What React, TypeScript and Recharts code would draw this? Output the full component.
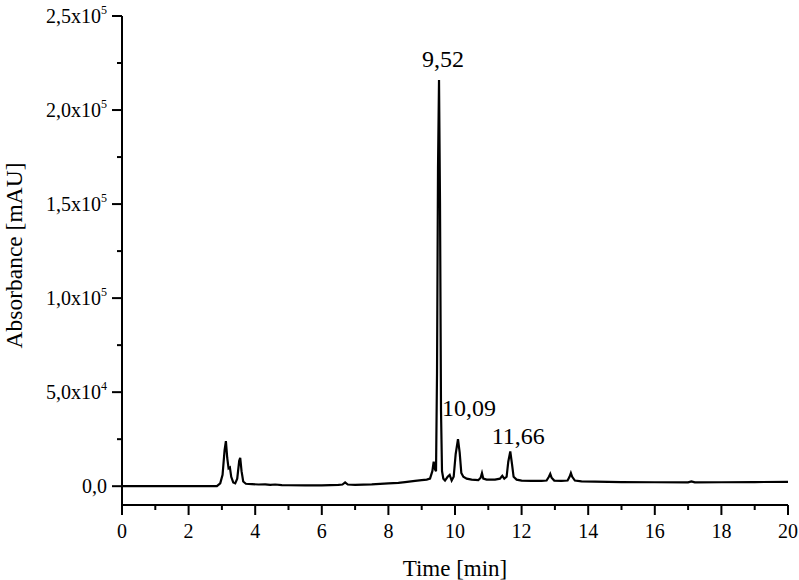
import { LineChart, Line, XAxis, YAxis, ReferenceDot } from 'recharts';

// retention time [min]
const time = [
  0, 1, 2, 2.85, 2.95, 3.02, 3.08, 3.12, 3.16, 3.2, 3.24, 3.28, 3.34, 3.4, 3.46, 3.52, 3.55, 3.59, 3.64, 3.72,
  3.9, 4.1, 4.3, 4.45, 4.6, 4.8, 5.0, 5.5, 6.0, 6.5, 6.62, 6.7, 6.78, 7.0, 7.5, 8.0, 8.3, 8.5, 8.8, 9.0,
  9.15, 9.25, 9.32, 9.36, 9.4, 9.43, 9.46, 9.49, 9.52, 9.55, 9.58, 9.61, 9.65, 9.7, 9.78, 9.84, 9.9, 9.96,
  10.02, 10.09, 10.14, 10.19, 10.25, 10.35, 10.5, 10.7, 10.77, 10.81, 10.85, 10.95, 11.2, 11.35, 11.42,
  11.48, 11.55, 11.6, 11.66, 11.71, 11.76, 11.85, 12.0, 12.3, 12.6, 12.75, 12.82, 12.86, 12.9, 12.98, 13.2,
  13.38, 13.44, 13.48, 13.52, 13.6, 13.8, 14.2, 15.0, 16.0, 17.0, 17.1, 17.2, 18.0, 19.0, 20.0,
];

// absorbance [mAU]
const absorbance = [
  0, 0, 0, 0, 1500, 6000, 19000, 24000, 15000, 9500, 10000, 5000, 2000, 1500, 4000, 13500, 15000, 8000, 2500, 1300,
  1100, 900, 1000, 700, 900, 600, 500, 400, 400, 700, 900, 2000, 900, 700, 1000, 1500, 1800, 2200, 2800, 3200,
  3500, 4000, 8000, 13000, 9000, 8000, 60000, 170000, 216000, 150000, 40000, 8000, 4000, 3000, 5000, 6000, 3000, 5000,
  17000, 25000, 18000, 7000, 5000, 4000, 3500, 3200, 4500, 7000, 4000, 3500, 3500, 4000, 5500,
  4000, 5000, 13000, 18500, 12000, 5000, 3500, 3000, 2800, 2800, 3000, 5000, 6500, 4500, 3000, 2800,
  3000, 5000, 7000, 5000, 3000, 2600, 2400, 2200, 2100, 2000, 2500, 2000, 2100, 2200, 2300,
];

const xTicks = [0, 1, 2, 3, 4, 5, 6, 7, 8, 9, 10, 11, 12, 13, 14, 15, 16, 17, 18, 19, 20];
const yTicks = [0, 25000, 50000, 75000, 100000, 125000, 150000, 175000, 200000, 225000, 250000];

const peakTimes = [9.52, 10.09, 11.66];
const peakHeights = [216000, 25000, 18500];
const peakLabels = ['9,52', '10,09', '11,66'];
const peakLabelShift = [
  [4, -13],
  [11, -23],
  [8, -7],
];

const data = time.map((t, i) => ({ time: t, abs: absorbance[i] }));

const FONT = '"Liberation Serif", "Times New Roman", serif';

const XTick = (props: any) => {
  const { x, y, payload } = props;
  const major = payload.value % 2 === 0;
  return (
    <g>
      <line x1={x} x2={x} y1={y} y2={y + (major ? 10 : 5)} stroke="#000" strokeWidth={2} />
      {major && (
        <text x={x} y={y + 33} textAnchor="middle" style={{ fontFamily: FONT }} fontSize={20} fill="#000">
          {payload.value}
        </text>
      )}
    </g>
  );
};

const YTick = (props: any) => {
  const { x, y, payload } = props;
  const v = payload.value;
  const major = v % 50000 === 0;
  let label: any = null;
  if (major) {
    if (v === 0) {
      label = <tspan>0,0</tspan>;
    } else {
      const exp = Math.floor(Math.log10(v));
      const m = (v / Math.pow(10, exp)).toFixed(1).replace('.', ',');
      label = (
        <>
          <tspan>{m}x10</tspan>
          <tspan dy={-9} fontSize={12}>{exp}</tspan>
        </>
      );
    }
  }
  return (
    <g>
      <line x1={x - (major ? 10 : 5)} x2={x} y1={y} y2={y} stroke="#000" strokeWidth={2} />
      {major && (
        <text x={x - 15} y={y + 7} textAnchor="end" style={{ fontFamily: FONT }} fontSize={20} fill="#000">
          {label}
        </text>
      )}
    </g>
  );
};

const YTitle = (props: any) => {
  const vb = props.viewBox;
  const cx = vb.x + 22;
  const cy = vb.y + vb.height / 2 - 5;
  return (
    <text x={cx} y={cy} transform={`rotate(-90, ${cx}, ${cy})`} textAnchor="middle" style={{ fontFamily: FONT }} fontSize={23.5} fill="#000">
      Absorbance [mAU]
    </text>
  );
};

const XTitle = (props: any) => {
  const vb = props.viewBox;
  return (
    <text x={vb.x + vb.width / 2} y={vb.y + 71} textAnchor="middle" style={{ fontFamily: FONT }} fontSize={23} fill="#000">
      Time [min]
    </text>
  );
};

const PeakLabel = (props: any) => {
  const { viewBox, text, dx, dy } = props;
  return (
    <text x={viewBox.x + dx} y={viewBox.y + dy} textAnchor="middle" style={{ fontFamily: FONT }} fontSize={24} fill="#000">
      {text}
    </text>
  );
};

export default function App() {
  return (
    <div style={{ position: 'absolute', left: 0, top: 0, width: 799, height: 580, background: '#fff' }}>
      <LineChart width={799} height={580} data={data} margin={{ top: 16, right: 11, bottom: 0, left: 0 }}>
        <XAxis
          dataKey="time"
          type="number"
          domain={[0, 20]}
          ticks={xTicks}
          interval={0}
          height={75}
          tickSize={0}
          tickMargin={0}
          tickLine={false}
          tick={<XTick />}
          axisLine={{ stroke: '#000', strokeWidth: 2 }}
          label={<XTitle />}
        />
        <YAxis
          type="number"
          domain={[-10000, 250000]}
          ticks={yTicks}
          interval={0}
          width={122}
          tickSize={0}
          tickMargin={0}
          tickLine={false}
          tick={<YTick />}
          axisLine={{ stroke: '#000', strokeWidth: 2 }}
          label={<YTitle />}
        />
        <Line
          type="linear"
          dataKey="abs"
          stroke="#000"
          strokeWidth={2.2}
          dot={false}
          isAnimationActive={false}
        />
        {peakTimes.map((t, i) => (
          <ReferenceDot
            key={t}
            x={t}
            y={peakHeights[i]}
            r={0}
            fill="none"
            stroke="none"
            label={<PeakLabel text={peakLabels[i]} dx={peakLabelShift[i][0]} dy={peakLabelShift[i][1]} />}
          />
        ))}
      </LineChart>
    </div>
  );
}
